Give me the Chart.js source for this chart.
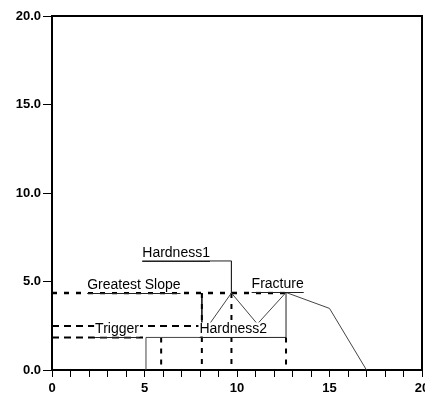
<!DOCTYPE html>
<html>
<head>
<meta charset="utf-8">
<script src="https://cdn.jsdelivr.net/npm/chart.js@4/dist/chart.umd.min.js"></script>
<style>
  html, body { margin: 0; padding: 0; background: #fff; overflow: hidden; }
  #wrap { width: 425px; height: 396px; }
</style>
</head>
<body>
<div id="wrap"><canvas id="c" width="425" height="396"></canvas></div>
<script>
// Axis ticks
const xTickValues = [0, 5, 10, 15, 20];
const yTickValues = [0, 5, 10, 15, 20];

// Measured force curve
const forceX = [5.08, 5.08, 8.0, 9.7, 11.1, 12.65, 15.0, 17.0];
const forceY = [0, 1.84, 1.84, 4.35, 2.6, 4.38, 3.48, 0];

// Event markers: name, x position of the event, level of the event
const eventNames  = ['Trigger', 'Greatest Slope', 'Hardness1', 'Hardness2', 'Fracture'];
const eventX      = [5.9, 8.1, 9.7, 12.65, 12.65];
const eventLevels = [1.84, 4.35, 4.35, 1.84, 4.38];

// Reference levels drawn as dashed horizontals
const triggerUpper = 2.48;
const triggerLower = 1.84;
const triggerUpperEnd = 8.1;
const triggerLowerEnd = 5.08;
const slopeLevel = 4.35;

// Label anchors (x, y) for each event label
const labelX = [2.33, 1.9, 4.88, 7.97, 10.79];
const labelY = [1.84, 4.35, 6.16, 1.84, 4.38];

const pts = (xs, ys) => xs.map((x, i) => (x === null ? { x: null, y: null } : { x, y: ys[i] }));

// Dashed drop lines from each event down to the axis
const dropX = [];
const dropY = [];
eventX.forEach((x, i) => {
  if (eventNames[i] === 'Fracture') return;
  dropX.push(x, x, null);
  dropY.push(eventLevels[i], 0, null);
});
dropX.push(eventX[4], eventX[4]);
dropY.push(triggerLower, 0);

// Thin leader lines linking labels to events
const leaderX = [
  labelX[2], eventX[2], eventX[2], null,
  labelX[3], eventX[3], eventX[3], null,
  eventX[1], eventX[1]
];
const leaderY = [
  labelY[2], labelY[2], eventLevels[2], null,
  labelY[3], labelY[3], eventLevels[4], null,
  slopeLevel, triggerLower
];

const lineBase = { showLine: true, pointRadius: 0, fill: false, spanGaps: false, tension: 0 };

const datasets = [
  Object.assign({}, lineBase, {
    label: 'Force',
    data: pts(forceX, forceY),
    borderColor: '#444', borderWidth: 1
  }),
  Object.assign({}, lineBase, {
    label: 'Greatest Slope',
    data: pts([0, eventX[4]], [slopeLevel, slopeLevel]),
    borderColor: '#000', borderWidth: 2.5, borderDash: [5, 7]
  }),
  Object.assign({}, lineBase, {
    label: 'Trigger',
    data: pts([0, triggerUpperEnd, null, 0, triggerLowerEnd], [triggerUpper, triggerUpper, null, triggerLower, triggerLower]),
    borderColor: '#000', borderWidth: 2, borderDash: [7, 5]
  }),
  Object.assign({}, lineBase, {
    label: 'Drops',
    data: pts(dropX, dropY),
    borderColor: '#000', borderWidth: 2, borderDash: [5, 6]
  }),
  Object.assign({}, lineBase, {
    label: 'Leaders',
    data: pts(leaderX, leaderY),
    borderColor: '#222', borderWidth: 1
  })
];

// Frame around the plot and event label text (each label sits on its line)
const framePlugin = {
  id: 'frame',
  afterDatasetsDraw(chart) {
    const { ctx, chartArea: a, scales } = chart;
    ctx.save();
    ctx.strokeStyle = '#000';
    ctx.lineWidth = 2;
    ctx.beginPath();
    ctx.moveTo(a.left, a.top);
    ctx.lineTo(a.right, a.top);
    ctx.lineTo(a.right, a.bottom);
    ctx.stroke();

    ctx.font = '14px "Liberation Sans", Arial, sans-serif';
    ctx.textAlign = 'left';
    ctx.textBaseline = 'bottom';
    eventNames.forEach((name, i) => {
      const px = scales.x.getPixelForValue(labelX[i]);
      const py = scales.y.getPixelForValue(labelY[i]);
      const w = ctx.measureText(name).width;
      ctx.fillStyle = '#fff';
      ctx.fillRect(px - 1, py - 15, w + 2, 14);
      ctx.fillStyle = '#000';
      ctx.fillText(name, px, py - 1);
      ctx.strokeStyle = '#222';
      ctx.lineWidth = 1;
      ctx.beginPath();
      ctx.moveTo(px, Math.round(py) + 0.5);
      ctx.lineTo(px + w, Math.round(py) + 0.5);
      ctx.stroke();
    });
    ctx.restore();
  }
};

const tickFont = { family: '"Liberation Sans", Arial, sans-serif', size: 13, weight: 'bold' };

new Chart(document.getElementById('c'), {
  type: 'scatter',
  data: { datasets },
  options: {
    responsive: false,
    animation: false,
    devicePixelRatio: 1,
    layout: { padding: { top: 16, right: 3, left: 0, bottom: 0 } },
    plugins: { legend: { display: false }, tooltip: { enabled: false } },
    scales: {
      x: {
        type: 'linear',
        min: xTickValues[0],
        max: xTickValues[xTickValues.length - 1],
        afterBuildTicks(scale) {
          const t = [];
          for (let v = scale.min; v <= scale.max; v += 1) t.push({ value: v });
          scale.ticks = t;
        },
        ticks: {
          autoSkip: false,
          maxRotation: 0,
          padding: 4,
          color: '#000',
          font: tickFont,
          callback: (v) => (xTickValues.includes(v) ? String(v) : '')
        },
        grid: { drawOnChartArea: false, drawTicks: true, tickLength: 7, color: '#000', lineWidth: 1 },
        border: { display: true, color: '#000', width: 2 },
        afterFit(scale) {
          scale.height = 26;
          scale.paddingLeft = 0;
          scale.paddingRight = 0;
        }
      },
      y: {
        type: 'linear',
        min: yTickValues[0],
        max: yTickValues[yTickValues.length - 1],
        afterBuildTicks(scale) {
          scale.ticks = yTickValues.map((v) => ({ value: v }));
        },
        ticks: {
          padding: 2,
          color: '#000',
          font: tickFont,
          callback: (v) => Number(v).toFixed(1)
        },
        grid: { drawOnChartArea: false, drawTicks: true, tickLength: 9, color: '#000', lineWidth: 1 },
        border: { display: true, color: '#000', width: 2 },
        afterFit(scale) {
          scale.width = 52;
          scale.paddingTop = 0;
          scale.paddingBottom = 0;
        }
      }
    }
  },
  plugins: [framePlugin]
});
</script>
</body>
</html>
